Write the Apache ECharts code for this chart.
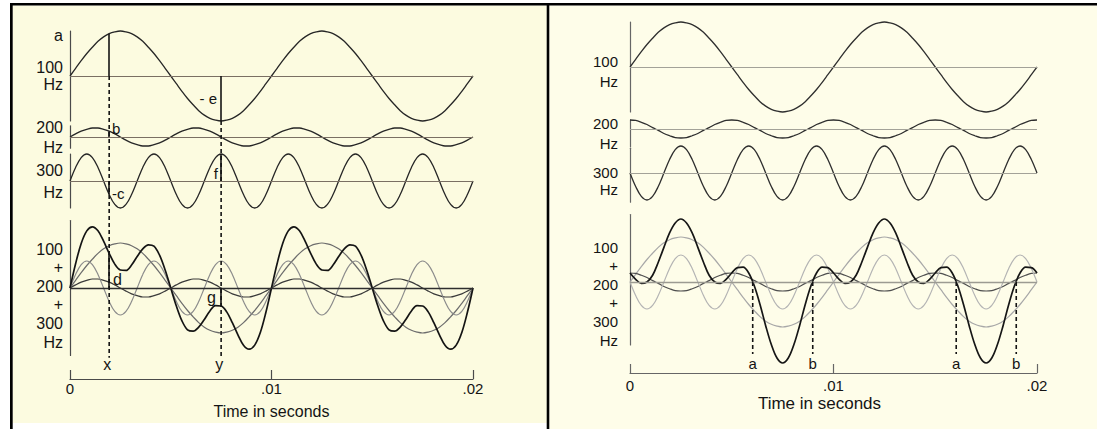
<!DOCTYPE html>
<html>
<head>
<meta charset="utf-8">
<title>Adding sine waves</title>
<script src="https://cdn.jsdelivr.net/npm/echarts@6/dist/echarts.min.js"></script>
<style>
  html, body { margin: 0; padding: 0; background: #ffffff; }
  #chart { width: 1097px; height: 429px; }
</style>
</head>
<body>
<div id="chart"></div>
<script>
// ---- sampled waveforms: one sample every 1/3600 s, 0 .. 0.02 s (73 samples) ----
const SAMPLE_STEP = 1 / 3600;

// 100 Hz component (amplitude 1)
const wave100 = [
  0, .17, .34, .5, .64, .77, .87, .94, .98, 1, .98, .94, .87, .77, .64, .5, .34, .17,
  0, -.17, -.34, -.5, -.64, -.77, -.87, -.94, -.98, -1, -.98, -.94, -.87, -.77, -.64, -.5, -.34, -.17,
  0, .17, .34, .5, .64, .77, .87, .94, .98, 1, .98, .94, .87, .77, .64, .5, .34, .17,
  0, -.17, -.34, -.5, -.64, -.77, -.87, -.94, -.98, -1, -.98, -.94, -.87, -.77, -.64, -.5, -.34, -.17,
  0
];

// 200 Hz component, starting upward (amplitude 0.2)
const wave200 = [
  0, .07, .13, .17, .2, .2, .17, .13, .07, 0, -.07, -.13, -.17, -.2, -.2, -.17, -.13, -.07,
  0, .07, .13, .17, .2, .2, .17, .13, .07, 0, -.07, -.13, -.17, -.2, -.2, -.17, -.13, -.07,
  0, .07, .13, .17, .2, .2, .17, .13, .07, 0, -.07, -.13, -.17, -.2, -.2, -.17, -.13, -.07,
  0, .07, .13, .17, .2, .2, .17, .13, .07, 0, -.07, -.13, -.17, -.2, -.2, -.17, -.13, -.07,
  0
];

// 300 Hz component, starting upward (amplitude 0.6)
const wave300 = [
  0, .3, .52, .6, .52, .3, 0, -.3, -.52, -.6, -.52, -.3,
  0, .3, .52, .6, .52, .3, 0, -.3, -.52, -.6, -.52, -.3,
  0, .3, .52, .6, .52, .3, 0, -.3, -.52, -.6, -.52, -.3,
  0, .3, .52, .6, .52, .3, 0, -.3, -.52, -.6, -.52, -.3,
  0, .3, .52, .6, .52, .3, 0, -.3, -.52, -.6, -.52, -.3,
  0, .3, .52, .6, .52, .3, 0, -.3, -.52, -.6, -.52, -.3,
  0
];

// sum of the three components above
const sumA = [
  0, .54, .99, 1.27, 1.36, 1.27, 1.04, .77, .53, .4, .39, .51, .7, .87, .96, .93, .73, .4,
  0, -.4, -.73, -.93, -.96, -.87, -.7, -.51, -.39, -.4, -.53, -.77, -1.04, -1.27, -1.36, -1.27, -.99, -.54,
  0, .54, .99, 1.27, 1.36, 1.27, 1.04, .77, .53, .4, .39, .51, .7, .87, .96, .93, .73, .4,
  0, -.4, -.73, -.93, -.96, -.87, -.7, -.51, -.39, -.4, -.53, -.77, -1.04, -1.27, -1.36, -1.27, -.99, -.54,
  0
];

// 200 Hz component, starting at its crest
const wave200Shifted = [
  .2, .19, .15, .1, .03, -.03, -.1, -.15, -.19, -.2, -.19, -.15, -.1, -.03, .03, .1, .15, .19,
  .2, .19, .15, .1, .03, -.03, -.1, -.15, -.19, -.2, -.19, -.15, -.1, -.03, .03, .1, .15, .19,
  .2, .19, .15, .1, .03, -.03, -.1, -.15, -.19, -.2, -.19, -.15, -.1, -.03, .03, .1, .15, .19,
  .2, .19, .15, .1, .03, -.03, -.1, -.15, -.19, -.2, -.19, -.15, -.1, -.03, .03, .1, .15, .19,
  .2
];

// 300 Hz component, starting downward
const wave300Inverted = [
  0, -.3, -.52, -.6, -.52, -.3, 0, .3, .52, .6, .52, .3,
  0, -.3, -.52, -.6, -.52, -.3, 0, .3, .52, .6, .52, .3,
  0, -.3, -.52, -.6, -.52, -.3, 0, .3, .52, .6, .52, .3,
  0, -.3, -.52, -.6, -.52, -.3, 0, .3, .52, .6, .52, .3,
  0, -.3, -.52, -.6, -.52, -.3, 0, .3, .52, .6, .52, .3,
  0, -.3, -.52, -.6, -.52, -.3, 0, .3, .52, .6, .52, .3,
  0
];

// sum of wave100 + wave200Shifted + wave300Inverted
const sumB = [
  .2, .06, -.03, 0, .15, .44, .77, 1.09, 1.31, 1.4, 1.31, 1.09, .77, .44, .15, 0, -.03, .06,
  .2, .32, .33, .2, -.09, -.5, -.97, -1.39, -1.69, -1.8, -1.69, -1.39, -.97, -.5, -.09, .2, .33, .32,
  .2, .06, -.03, 0, .15, .44, .77, 1.09, 1.31, 1.4, 1.31, 1.09, .77, .44, .15, 0, -.03, .06,
  .2, .32, .33, .2, -.09, -.5, -.97, -1.39, -1.69, -1.8, -1.69, -1.39, -.97, -.5, -.09, .2, .33, .32,
  .2
];

// time axis
const timeTickValues = [0, 0.01, 0.02];
const timeTickLabels = ['0', '.01', '.02'];
const timeAxisTitle = 'Time in seconds';

// trace names at the left of each strip
const traceLabels = ['100\nHz', '200\nHz', '300\nHz', '100\n+\n200\n+\n300\nHz'];

// left figure: probe sample indices and their letters
const probeSamples = [7, 27];
const probeLetters = ['x', 'y'];
const amplitudeLetters = ['a', 'b', '-c', 'd', '- e', 'f', 'g'];

// right figure: zero crossings of the sum (seconds) and their letters
const crossTimes = [0.00603, 0.00898, 0.01603, 0.01898];
const crossLetters = ['a', 'b', 'a', 'b'];

// ---------------------------------------------------------------------------
const FONT = '"Liberation Sans", Arial, Helvetica, sans-serif';
const INK = '#141414';

const panels = [
  {
    left: 70, width: 403,
    strips: [
      { top: 31, height: 90, min: -1, max: 1 },
      { top: 125.75, height: 22.5, min: -0.25, max: 0.25 },
      { top: 154, height: 54, min: -0.6, max: 0.6 },
      { top: 220.5, height: 135, min: -1.5, max: 1.5 }
    ],
    waves: [wave100, wave200, wave300], sum: sumA,
    curveColor: '#262626', baseColor: '#7a6f63', sumBaseColor: '#2e2e2e',
    axisColor: '#4a4a4a', mixColors: ['#6c6c6c', '#3a3a3a', '#8c8c8c'], sumColor: '#141414',
    axisOffset: 23.5, labelMargin: 2, tickFont: 15, nameGap: 24, nameFont: 16, namePadding: [0, 0, 0, 0],
    labelX: 63, labelFont: 16,
    labelLayout: [{ y: 75.5, lh: 17 }, { y: 137.7, lh: 19.5 }, { y: 181, lh: 22 }, { y: 295.5, lh: 18.6 }]
  },
  {
    left: 630, width: 407,
    strips: [
      { top: 22, height: 90, min: -1, max: 1 },
      { top: 120, height: 27, min: -0.4, max: 0.2 },
      { top: 148.25, height: 54, min: -0.65, max: 0.55 },
      { top: 214.5, height: 130.5, min: -1.4, max: 1.5 }
    ],
    waves: [wave100, wave200Shifted, wave300Inverted], sum: sumB,
    curveColor: '#2e2e2e', baseColor: '#a3a298', sumBaseColor: '#9c9b92',
    axisColor: '#666666', mixColors: ['#a8a8a8', '#4e4e4e', '#b4b4b4'], sumColor: '#161616',
    axisOffset: 28, labelMargin: 5, tickFont: 15, nameGap: 22, nameFont: 17, namePadding: [0, 28, 0, 0],
    labelX: 618, labelFont: 15,
    labelLayout: [{ y: 71, lh: 20 }, { y: 133, lh: 20 }, { y: 180.5, lh: 17 }, { y: 293.5, lh: 18.6 }]
  }
];

function toPoints(values) {
  return values.map((v, i) => [i * SAMPLE_STEP, v]);
}

function tickText(v) {
  for (let k = 0; k < timeTickValues.length; k++) {
    if (Math.abs(v - timeTickValues[k]) < 1e-9) return timeTickLabels[k];
  }
  return '';
}

// baseline plus optional solid probe segments from 0 up/down to the curve
function guideLines(baseColor, baseWidth, values, indices) {
  const data = [{ yAxis: 0, lineStyle: { color: baseColor, width: baseWidth, type: 'solid' } }];
  (indices || []).forEach(i => {
    data.push([
      { coord: [i * SAMPLE_STEP, 0], lineStyle: { color: INK, width: 1.6, type: 'solid' } },
      { coord: [i * SAMPLE_STEP, values[i]] }
    ]);
  });
  return {
    silent: true, symbol: ['none', 'none'], animation: false,
    label: { show: false }, emphasis: { disabled: true },
    lineStyle: { type: 'solid' }, data
  };
}

function line(gridIdx, values, color, width, z, extra) {
  return Object.assign({
    type: 'line', xAxisIndex: gridIdx, yAxisIndex: gridIdx,
    data: toPoints(values), showSymbol: false, symbol: 'none',
    smooth: 0.35, clip: false, silent: true, animation: false,
    emphasis: { disabled: true },
    lineStyle: { color, width }, z
  }, extra || {});
}

const grid = [], xAxis = [], yAxis = [], series = [];

panels.forEach((p, pi) => {
  const base = grid.length;
  p.strips.forEach((s, si) => {
    const idx = grid.length;
    grid.push({ left: p.left, width: p.width, top: s.top, height: s.height, outerBoundsMode: 'none' });
    yAxis.push({
      gridIndex: idx, type: 'value', min: s.min, max: s.max,
      axisLine: { show: true, onZero: false, lineStyle: { color: p.axisColor, width: 1.2 } },
      axisTick: { show: false }, axisLabel: { show: false }, splitLine: { show: false }
    });
    if (si < 3) {
      xAxis.push({ gridIndex: idx, type: 'value', min: 0, max: 0.02, show: false });
    } else {
      xAxis.push({
        gridIndex: idx, type: 'value', min: 0, max: 0.02, interval: 0.01,
        position: 'bottom', offset: p.axisOffset,
        axisLine: { show: true, onZero: false, lineStyle: { color: p.axisColor, width: 1.2 } },
        axisTick: { show: true, inside: true, length: 9, lineStyle: { color: p.axisColor, width: 1.2 } },
        axisLabel: { show: true, margin: p.labelMargin, color: INK, fontSize: p.tickFont, fontFamily: FONT, formatter: tickText },
        splitLine: { show: false },
        name: timeAxisTitle, nameLocation: 'middle', nameGap: p.nameGap,
        nameTextStyle: { color: INK, fontSize: p.nameFont, fontFamily: FONT, padding: p.namePadding }
      });
    }
  });

  const probes = pi === 0;
  // single components on their own strips
  p.waves.forEach((w, wi) => {
    let idx = [];
    if (probes) idx = wi === 0 ? probeSamples : (wi === 1 ? [probeSamples[0]] : probeSamples);
    series.push(line(base + wi, w, p.curveColor, 1.3, 3, { markLine: guideLines(p.baseColor, 1, w, idx) }));
  });
  // the mixture strip: components in grey, the sum in black
  const mix = base + 3;
  p.waves.forEach((w, wi) => {
    series.push(line(mix, w, p.mixColors[wi], 1.2, 3));
  });
  series.push(line(mix, p.sum, p.sumColor, 1.7, 4, {
    markLine: guideLines(p.sumBaseColor, 1.3, p.sum, probes ? probeSamples : [])
  }));
});

const chart = echarts.init(document.getElementById('chart'), null, { renderer: 'svg' });
chart.setOption({
  animation: false,
  backgroundColor: '#ffffff',
  grid, xAxis, yAxis, series
});

// ---- frame, trace names, letters and dashed guides ----
const px = (g, t, v) => chart.convertToPixel({ gridIndex: g }, [t, v]);
const els = [];

// panel paper and black frame
els.push({ type: 'rect', z: -10, silent: true, shape: { x: 12.7, y: 5.5, width: 534, height: 417.5 }, style: { fill: '#fcfbe0' } });
els.push({ type: 'rect', z: -10, silent: true, shape: { x: 549.3, y: 5.5, width: 548, height: 424 }, style: { fill: '#fefde9' } });
els.push({ type: 'rect', z: 60, silent: true, shape: { x: 10, y: 3, width: 1087, height: 2.6 }, style: { fill: '#000' } });
els.push({ type: 'rect', z: 60, silent: true, shape: { x: 10, y: 3, width: 2.7, height: 426 }, style: { fill: '#000' } });
els.push({ type: 'rect', z: 60, silent: true, shape: { x: 546.7, y: 3, width: 2.6, height: 426 }, style: { fill: '#000' } });

function text(str, x, y, size, align, lh) {
  els.push({
    type: 'text', z: 50, silent: true,
    style: {
      text: str, x, y, fill: INK, fontSize: size, fontFamily: FONT,
      align, verticalAlign: 'middle', lineHeight: lh || size
    }
  });
}

function dashed(x1, y1, x2, y2) {
  els.push({
    type: 'line', z: 45, silent: true,
    shape: { x1, y1, x2, y2 },
    style: { stroke: INK, lineWidth: 1.6, lineDash: [4, 3] }
  });
}

panels.forEach(p => {
  traceLabels.forEach((t, i) => {
    const L = p.labelLayout[i];
    text(t, p.labelX, L.y, p.labelFont, 'right', L.lh);
  });
});

// left figure: dashed probes through all strips, letters beside the solid segments
const tx = probeSamples[0] * SAMPLE_STEP;
const ty = probeSamples[1] * SAMPLE_STEP;
let a = px(0, tx, 0), b = px(3, tx, -1.55);
dashed(a[0], a[1], b[0], b[1]);
a = px(0, ty, wave100[probeSamples[1]]); b = px(3, ty, -1.55);
dashed(a[0], a[1], b[0], b[1]);
let q = px(3, tx, -1.71); text(probeLetters[0], q[0] - 2, q[1], 16, 'center');
q = px(3, ty, -1.71); text(probeLetters[1], q[0] - 2, q[1], 16, 'center');

text(amplitudeLetters[0], 63, 35, 16, 'right');
text(amplitudeLetters[1], 112, 128, 15, 'left');
text(amplitudeLetters[2], 112, 193, 15, 'left');
text(amplitudeLetters[3], 113, 279, 16, 'left');
text(amplitudeLetters[4], 217, 98, 15, 'right');
text(amplitudeLetters[5], 218, 173, 15, 'right');
text(amplitudeLetters[6], 216, 297, 16, 'right');

// right figure: dashed drops at the zero crossings of the sum
crossTimes.forEach((t, i) => {
  const top = px(7, t, 0), bot = px(7, t, -1.6), lab = px(7, t, -1.8);
  dashed(top[0], top[1], bot[0], bot[1]);
  text(crossLetters[i], lab[0], lab[1], 15, 'center');
});

chart.setOption({ graphic: { elements: els } });
</script>
</body>
</html>
